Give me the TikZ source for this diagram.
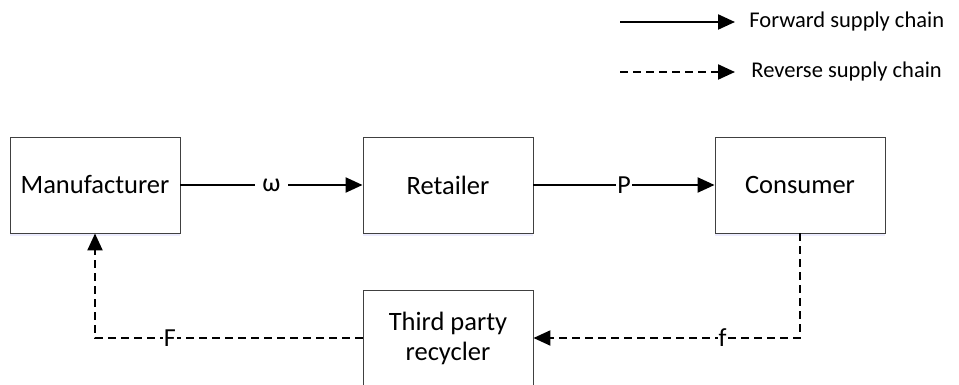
\documentclass[tikz,border=0pt]{standalone}
\usepackage{fontspec}
\setmainfont{Carlito}
\usetikzlibrary{arrows.meta, positioning, shadows}

\begin{document}
\begin{tikzpicture}[x=1pt, y=-1pt, line width=2.2pt,
    box/.style={draw=black!75, line width=0.9pt, fill=white, minimum width=170pt, minimum height=96pt, align=center, font=\fontsize{26.5}{30}\selectfont, drop shadow={shadow xshift=0pt, shadow yshift=-3pt, fill=blue!12, opacity=0.6}},
    fwd/.style={-{Triangle[length=17pt, width=15pt]}},
    rev/.style={-{Triangle[length=17pt, width=15pt]}, dash pattern=on 8pt off 5pt},
    lbl/.style={fill=white, inner sep=1pt, font=\fontsize{26}{28}\selectfont}];

\useasboundingbox (0,0) rectangle (959,385);

% main line of boxes

\node[box] (manuf) at (95,185) {Manufacturer};
\node[box] (retailer) at (448,185) {Retailer};
\node[box] (consumer) at (800,185) {Consumer};
\node[box] (recycler) at (448,338) {Third party\\recycler};

% arrows

\draw[fwd] (manuf) -- node[lbl, inner xsep=7pt]{ω} (retailer);
\draw[fwd] (retailer) -- node[lbl]{P} (consumer);
\draw[rev] (consumer.south) |- node[lbl, pos=0.645]{f} (recycler.east);
\draw[rev] (recycler.west) -| node[lbl, pos=0.36]{F} (manuf.south);

% legend

\coordinate (fwdstart) at (620,22);
\coordinate (fwdend) at (735,22);
\coordinate (revstart) at (620,72);
\coordinate (revend) at (735,72);
\draw[fwd] (fwdstart) -- (fwdend);
\draw[rev] (revstart) -- (revend);
\node[anchor=west, font=\fontsize{22.5}{24}\selectfont] (fwdtext) at (745,22) {Forward supply chain};
\node[anchor=west, font=\fontsize{22.5}{24}\selectfont] (revtext) at (747,72) {Reverse supply chain};

\end{tikzpicture}
\end{document}
